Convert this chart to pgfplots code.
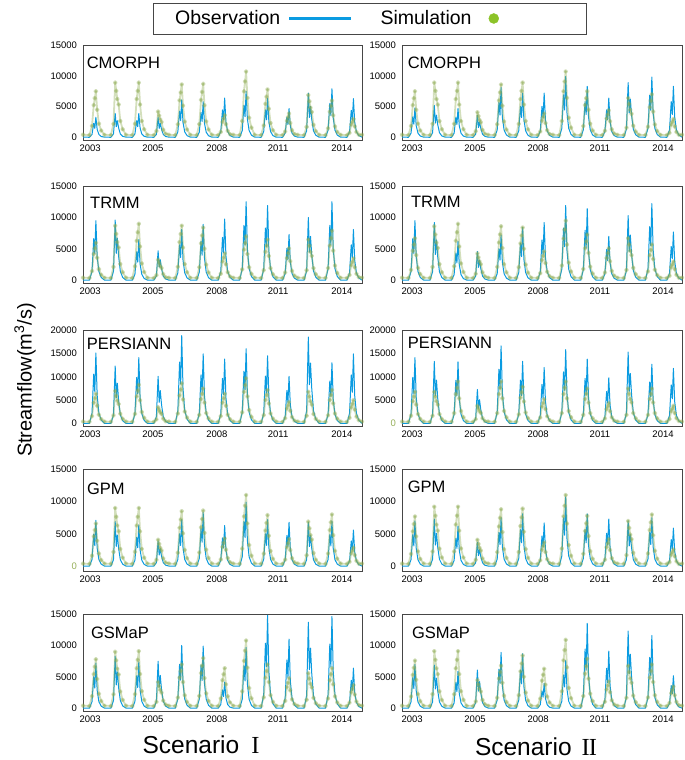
\documentclass[border=0pt]{standalone}
\usepackage{pgfplots}
\usepackage{pgfplotstable}
\pgfplotsset{compat=1.18}
\usepackage{fontspec}
\setmainfont{Liberation Sans}
\newfontfamily\romanfont{Liberation Serif}
\definecolor{obsblue}{RGB}{10,155,225}
\definecolor{simgreen}{RGB}{140,170,80}
\definecolor{simdot}{RGB}{140,195,40}
\definecolor{zerogreen}{RGB}{150,175,90}
\definecolor{framegray}{RGB}{70,70,70}

% ---------------- Scenario I ----------------
\pgfplotstableread[row sep=\\]{
t b g\\
0 60 450\\ 0.30 40 400\\ 0.42 500 1875\\ 0.50 2310 5250\\ 0.55 1490 6375\\ 0.60 3300 7500\\ 0.66 1320 4500\\ 0.74 500 2250\\ 0.85 165 1125\\
1 60 450\\ 1.30 40 400\\ 1.42 585 2225\\ 1.50 3900 8900\\ 1.55 1755 7565\\ 1.60 2730 6230\\ 1.66 1560 5340\\ 1.74 585 2670\\ 1.85 195 1335\\
2 60 450\\ 2.30 40 400\\ 2.42 585 2225\\ 2.50 2730 6230\\ 2.55 1755 7565\\ 2.60 3900 8900\\ 2.66 1560 5340\\ 2.74 585 2670\\ 2.85 195 1335\\
3 60 450\\ 3.30 40 400\\ 3.42 500 1050\\ 3.50 3300 4200\\ 3.55 1490 3570\\ 3.60 2310 2940\\ 3.66 1320 2520\\ 3.74 500 1260\\ 3.85 165 630\\
4 60 450\\ 4.30 40 400\\ 4.42 915 2150\\ 4.50 4270 6020\\ 4.55 2745 7310\\ 4.60 6100 8600\\ 4.66 2440 5160\\ 4.74 915 2580\\ 4.85 305 1290\\
5 60 450\\ 5.30 40 400\\ 5.42 870 2175\\ 5.50 4060 6090\\ 5.55 2610 7395\\ 5.60 5800 8700\\ 5.66 2320 5220\\ 5.74 870 2610\\ 5.85 290 1305\\
6 60 450\\ 6.30 40 400\\ 6.42 960 900\\ 6.50 4480 2520\\ 6.55 2880 3060\\ 6.60 6400 3600\\ 6.66 2560 2160\\ 6.74 960 1080\\ 6.85 320 540\\
7 60 450\\ 7.30 40 400\\ 7.42 1125 2675\\ 7.50 5250 7490\\ 7.55 3375 9095\\ 7.60 7500 10700\\ 7.66 3000 6420\\ 7.74 1125 3210\\ 7.85 375 1605\\
8 60 450\\ 8.30 40 400\\ 8.42 960 1950\\ 8.50 4480 5460\\ 8.55 2880 6630\\ 8.60 6400 7800\\ 8.66 2560 4680\\ 8.74 960 2340\\ 8.85 320 1170\\
9 60 450\\ 9.30 40 400\\ 9.42 705 975\\ 9.50 3290 2730\\ 9.55 2115 3315\\ 9.60 4700 3900\\ 9.66 1880 2340\\ 9.74 705 1170\\ 9.85 235 585\\
10 60 450\\ 10.30 40 400\\ 10.42 1080 1725\\ 10.50 7200 6900\\ 10.55 3240 5865\\ 10.60 5040 4830\\ 10.66 2880 4140\\ 10.74 1080 2070\\ 10.85 360 1035\\
11 60 450\\ 11.30 40 400\\ 11.42 1185 1500\\ 11.50 5530 4200\\ 11.55 3555 5100\\ 11.60 7900 6000\\ 11.66 3160 3600\\ 11.74 1185 1800\\ 11.85 395 900\\
12 60 450\\ 12.30 40 400\\ 12.42 945 750\\ 12.50 4410 2100\\ 12.55 2835 2550\\ 12.60 6300 3000\\ 12.66 2520 1800\\ 12.74 945 900\\ 12.85 315 450\\
13 60 450\\
}\tCI

\pgfplotstableread[row sep=\\]{
t b g\\
0 60 450\\ 0.30 40 400\\ 0.42 1425 1500\\ 0.50 6650 4200\\ 0.55 4275 5100\\ 0.60 9500 6000\\ 0.66 3800 3600\\ 0.74 1425 1800\\ 0.85 475 900\\
1 60 450\\ 1.30 40 400\\ 1.42 1440 2175\\ 1.50 9600 8700\\ 1.55 4320 7395\\ 1.60 6720 6090\\ 1.66 3840 5220\\ 1.74 1440 2610\\ 1.85 480 1305\\
2 60 450\\ 2.30 40 400\\ 2.42 975 2250\\ 2.50 4550 6300\\ 2.55 2925 7650\\ 2.60 6500 9000\\ 2.66 2600 5400\\ 2.74 975 2700\\ 2.85 325 1350\\
3 60 450\\ 3.30 40 400\\ 3.42 705 825\\ 3.50 4700 3300\\ 3.55 2115 2805\\ 3.60 3290 2310\\ 3.66 1880 1980\\ 3.74 705 990\\ 3.85 235 495\\
4 60 450\\ 4.30 40 400\\ 4.42 1215 2175\\ 4.50 5670 6090\\ 4.55 3645 7395\\ 4.60 8100 8700\\ 4.66 3240 5220\\ 4.74 1215 2610\\ 4.85 405 1305\\
5 60 450\\ 5.30 40 400\\ 5.42 1335 2100\\ 5.50 6230 5880\\ 5.55 4005 7140\\ 5.60 8900 8400\\ 5.66 3560 5040\\ 5.74 1335 2520\\ 5.85 445 1260\\
6 60 450\\ 6.30 40 400\\ 6.42 1460 1075\\ 6.50 6825 3010\\ 6.55 4390 3655\\ 6.60 9750 4300\\ 6.66 3900 2580\\ 6.74 1460 1290\\ 6.85 490 645\\
7 60 450\\ 7.30 40 400\\ 7.42 1875 1750\\ 7.50 8750 4900\\ 7.55 5625 5950\\ 7.60 12500 7000\\ 7.66 5000 4200\\ 7.74 1875 2100\\ 7.85 625 1050\\
8 60 450\\ 8.30 40 400\\ 8.42 1785 1625\\ 8.50 8330 4550\\ 8.55 5355 5525\\ 8.60 11900 6500\\ 8.66 4760 3900\\ 8.74 1785 1950\\ 8.85 595 975\\
9 60 450\\ 9.30 40 400\\ 9.42 1095 1275\\ 9.50 5110 3570\\ 9.55 3285 4335\\ 9.60 7300 5100\\ 9.66 2920 3060\\ 9.74 1095 1530\\ 9.85 365 765\\
10 60 450\\ 10.30 40 400\\ 10.42 1500 1625\\ 10.50 10000 6500\\ 10.55 4500 5525\\ 10.60 7000 4550\\ 10.66 4000 3900\\ 10.74 1500 1950\\ 10.85 500 975\\
11 60 450\\ 11.30 40 400\\ 11.42 1875 1975\\ 11.50 8750 5530\\ 11.55 5625 6715\\ 11.60 12500 7900\\ 11.66 5000 4740\\ 11.74 1875 2370\\ 11.85 625 1185\\
12 60 450\\ 12.30 40 400\\ 12.42 1215 875\\ 12.50 5670 2450\\ 12.55 3645 2975\\ 12.60 8100 3500\\ 12.66 3240 2100\\ 12.74 1215 1050\\ 12.85 405 525\\
13 60 450\\
}\tTI

\pgfplotstableread[row sep=\\]{
t b g\\
0 60 450\\ 0.30 40 400\\ 0.42 2265 1600\\ 0.50 10570 4480\\ 0.55 6795 5440\\ 0.60 15100 6400\\ 0.66 6040 3840\\ 0.74 2265 1920\\ 0.85 755 960\\
1 60 450\\ 1.30 40 400\\ 1.42 1845 1750\\ 1.50 12300 7000\\ 1.55 5535 5950\\ 1.60 8610 4900\\ 1.66 4920 4200\\ 1.74 1845 2100\\ 1.85 615 1050\\
2 60 450\\ 2.30 40 400\\ 2.42 2115 2075\\ 2.50 9870 5810\\ 2.55 6345 7055\\ 2.60 14100 8300\\ 2.66 5640 4980\\ 2.74 2115 2490\\ 2.85 705 1245\\
3 60 450\\ 3.30 40 400\\ 3.42 1515 875\\ 3.50 10100 3500\\ 3.55 4545 2975\\ 3.60 7070 2450\\ 3.66 4040 2100\\ 3.74 1515 1050\\ 3.85 505 525\\
4 60 450\\ 4.30 40 400\\ 4.42 2820 2150\\ 4.50 13160 6020\\ 4.55 8460 7310\\ 4.60 18800 8600\\ 4.66 7520 5160\\ 4.74 2820 2580\\ 4.85 940 1290\\
5 60 450\\ 5.30 40 400\\ 5.42 2235 1875\\ 5.50 10430 5250\\ 5.55 6705 6375\\ 5.60 14900 7500\\ 5.66 5960 4500\\ 5.74 2235 2250\\ 5.85 745 1125\\
6 60 450\\ 6.30 40 400\\ 6.42 2070 1600\\ 6.50 9660 4480\\ 6.55 6210 5440\\ 6.60 13800 6400\\ 6.66 5520 3840\\ 6.74 2070 1920\\ 6.85 690 960\\
7 60 450\\ 7.30 40 400\\ 7.42 2400 2425\\ 7.50 11200 6790\\ 7.55 7200 8245\\ 7.60 16000 9700\\ 7.66 6400 5820\\ 7.74 2400 2910\\ 7.85 800 1455\\
8 60 450\\ 8.30 40 400\\ 8.42 2175 1800\\ 8.50 10150 5040\\ 8.55 6525 6120\\ 8.60 14500 7200\\ 8.66 5800 4320\\ 8.74 2175 2160\\ 8.85 725 1080\\
9 60 450\\ 9.30 40 400\\ 9.42 1515 1150\\ 9.50 7070 3220\\ 9.55 4545 3910\\ 9.60 10100 4600\\ 9.66 4040 2760\\ 9.74 1515 1380\\ 9.85 505 690\\
10 60 450\\ 10.30 40 400\\ 10.42 2775 1700\\ 10.50 18500 6800\\ 10.55 8325 5780\\ 10.60 12950 4760\\ 10.66 7400 4080\\ 10.74 2775 2040\\ 10.85 925 1020\\
11 60 450\\ 11.30 40 400\\ 11.42 1950 1800\\ 11.50 9100 5040\\ 11.55 5850 6120\\ 11.60 13000 7200\\ 11.66 5200 4320\\ 11.74 1950 2160\\ 11.85 650 1080\\
12 60 450\\ 12.30 40 400\\ 12.42 2235 1250\\ 12.50 10430 3500\\ 12.55 6705 4250\\ 12.60 14900 5000\\ 12.66 5960 3000\\ 12.74 2235 1500\\ 12.85 745 750\\
13 60 450\\
}\tPI

\pgfplotstableread[row sep=\\]{
t b g\\
0 60 450\\ 0.30 40 400\\ 0.42 1065 1650\\ 0.50 4970 4620\\ 0.55 3195 5610\\ 0.60 7100 6600\\ 0.66 2840 3960\\ 0.74 1065 1980\\ 0.85 355 990\\
1 60 450\\ 1.30 40 400\\ 1.42 1035 2250\\ 1.50 6900 9000\\ 1.55 3105 7650\\ 1.60 4830 6300\\ 1.66 2760 5400\\ 1.74 1035 2700\\ 1.85 345 1350\\
2 60 450\\ 2.30 40 400\\ 2.42 960 2250\\ 2.50 4480 6300\\ 2.55 2880 7650\\ 2.60 6400 9000\\ 2.66 2560 5400\\ 2.74 960 2700\\ 2.85 320 1350\\
3 60 450\\ 3.30 40 400\\ 3.42 585 1025\\ 3.50 3900 4100\\ 3.55 1755 3485\\ 3.60 2730 2870\\ 3.66 1560 2460\\ 3.74 585 1230\\ 3.85 195 615\\
4 60 450\\ 4.30 40 400\\ 4.42 1080 2125\\ 4.50 5040 5950\\ 4.55 3240 7225\\ 4.60 7200 8500\\ 4.66 2880 5100\\ 4.74 1080 2550\\ 4.85 360 1275\\
5 60 450\\ 5.30 40 400\\ 5.42 1245 2150\\ 5.50 5810 6020\\ 5.55 3735 7310\\ 5.60 8300 8600\\ 5.66 3320 5160\\ 5.74 1245 2580\\ 5.85 415 1290\\
6 60 450\\ 6.30 40 400\\ 6.42 945 1075\\ 6.50 4410 3010\\ 6.55 2835 3655\\ 6.60 6300 4300\\ 6.66 2520 2580\\ 6.74 945 1290\\ 6.85 315 645\\
7 60 450\\ 7.30 40 400\\ 7.42 1485 2750\\ 7.50 6930 7700\\ 7.55 4455 9350\\ 7.60 9900 11000\\ 7.66 3960 6600\\ 7.74 1485 3300\\ 7.85 495 1650\\
8 60 450\\ 8.30 40 400\\ 8.42 1080 1975\\ 8.50 5040 5530\\ 8.55 3240 6715\\ 8.60 7200 7900\\ 8.66 2880 4740\\ 8.74 1080 2370\\ 8.85 360 1185\\
9 60 450\\ 9.30 40 400\\ 9.42 1020 1050\\ 9.50 4760 2940\\ 9.55 3060 3570\\ 9.60 6800 4200\\ 9.66 2720 2520\\ 9.74 1020 1260\\ 9.85 340 630\\
10 60 450\\ 10.30 40 400\\ 10.42 1020 1725\\ 10.50 6800 6900\\ 10.55 3060 5865\\ 10.60 4760 4830\\ 10.66 2720 4140\\ 10.74 1020 2070\\ 10.85 340 1035\\
11 60 450\\ 11.30 40 400\\ 11.42 1050 2000\\ 11.50 4900 5600\\ 11.55 3150 6800\\ 11.60 7000 8000\\ 11.66 2800 4800\\ 11.74 1050 2400\\ 11.85 350 1200\\
12 60 450\\ 12.30 40 400\\ 12.42 840 725\\ 12.50 3920 2030\\ 12.55 2520 2465\\ 12.60 5600 2900\\ 12.66 2240 1740\\ 12.74 840 870\\ 12.85 280 435\\
13 60 450\\
}\tGI

\pgfplotstableread[row sep=\\]{
t b g\\
0 60 450\\ 0.30 40 400\\ 0.42 1080 1950\\ 0.50 5040 5460\\ 0.55 3240 6630\\ 0.60 7200 7800\\ 0.66 2880 4680\\ 0.74 1080 2340\\ 0.85 360 1170\\
1 60 450\\ 1.30 40 400\\ 1.42 1245 2250\\ 1.50 8300 9000\\ 1.55 3735 7650\\ 1.60 5810 6300\\ 1.66 3320 5400\\ 1.74 1245 2700\\ 1.85 415 1350\\
2 60 450\\ 2.30 40 400\\ 2.42 1110 2275\\ 2.50 5180 6370\\ 2.55 3330 7735\\ 2.60 7400 9100\\ 2.66 2960 5460\\ 2.74 1110 2730\\ 2.85 370 1365\\
3 60 450\\ 3.30 40 400\\ 3.42 1125 1050\\ 3.50 7500 4200\\ 3.55 3375 3570\\ 3.60 5250 2940\\ 3.66 3000 2520\\ 3.74 1125 1260\\ 3.85 375 630\\
4 60 450\\ 4.30 40 400\\ 4.42 1500 1750\\ 4.50 7000 4900\\ 4.55 4500 5950\\ 4.60 10000 7000\\ 4.66 4000 4200\\ 4.74 1500 2100\\ 4.85 500 1050\\
5 60 450\\ 5.30 40 400\\ 5.42 1485 2000\\ 5.50 6930 5600\\ 5.55 4455 6800\\ 5.60 9900 8000\\ 5.66 3960 4800\\ 5.74 1485 2400\\ 5.85 495 1200\\
6 60 450\\ 6.30 40 400\\ 6.42 630 1600\\ 6.50 2940 4480\\ 6.55 1890 5440\\ 6.60 4200 6400\\ 6.66 1680 3840\\ 6.74 630 1920\\ 6.85 210 960\\
7 60 450\\ 7.30 40 400\\ 7.42 1455 2700\\ 7.50 6790 7560\\ 7.55 4365 9180\\ 7.60 9700 10800\\ 7.66 3880 6480\\ 7.74 1455 3240\\ 7.85 485 1620\\
8 60 450\\ 8.30 40 400\\ 8.42 2220 1750\\ 8.50 10360 4900\\ 8.55 6660 5950\\ 8.60 14800 7000\\ 8.66 5920 4200\\ 8.74 2220 2100\\ 8.85 740 1050\\
9 60 450\\ 9.30 40 400\\ 9.42 1650 1200\\ 9.50 7700 3360\\ 9.55 4950 4080\\ 9.60 11000 4800\\ 9.66 4400 2880\\ 9.74 1650 1440\\ 9.85 550 720\\
10 60 450\\ 10.30 40 400\\ 10.42 2055 1400\\ 10.50 13700 5600\\ 10.55 6165 4760\\ 10.60 9590 3920\\ 10.66 5480 3360\\ 10.74 2055 1680\\ 10.85 685 840\\
11 60 450\\ 11.30 40 400\\ 11.42 2190 1600\\ 11.50 10220 4480\\ 11.55 6570 5440\\ 11.60 14600 6400\\ 11.66 5840 3840\\ 11.74 2190 1920\\ 11.85 730 960\\
12 60 450\\ 12.30 40 400\\ 12.42 960 925\\ 12.50 4480 2590\\ 12.55 2880 3145\\ 12.60 6400 3700\\ 12.66 2560 2220\\ 12.74 960 1110\\ 12.85 320 555\\
13 60 450\\
}\tSI

% ---------------- Scenario II ----------------
\pgfplotstableread[row sep=\\]{
t b g\\
0 60 450\\ 0.30 40 400\\ 0.42 720 1875\\ 0.50 3360 5250\\ 0.55 2160 6375\\ 0.60 4800 7500\\ 0.66 1920 4500\\ 0.74 720 2250\\ 0.85 240 1125\\
1 60 450\\ 1.30 40 400\\ 1.42 780 2225\\ 1.50 5200 8900\\ 1.55 2340 7565\\ 1.60 3640 6230\\ 1.66 2080 5340\\ 1.74 780 2670\\ 1.85 260 1335\\
2 60 450\\ 2.30 40 400\\ 2.42 705 2225\\ 2.50 3290 6230\\ 2.55 2115 7565\\ 2.60 4700 8900\\ 2.66 1880 5340\\ 2.74 705 2670\\ 2.85 235 1335\\
3 60 450\\ 3.30 40 400\\ 3.42 540 1025\\ 3.50 3600 4100\\ 3.55 1620 3485\\ 3.60 2520 2870\\ 3.66 1440 2460\\ 3.74 540 1230\\ 3.85 180 615\\
4 60 450\\ 4.30 40 400\\ 4.42 1215 2150\\ 4.50 5670 6020\\ 4.55 3645 7310\\ 4.60 8100 8600\\ 4.66 3240 5160\\ 4.74 1215 2580\\ 4.85 405 1290\\
5 60 450\\ 5.30 40 400\\ 5.42 1080 2225\\ 5.50 5040 6230\\ 5.55 3240 7565\\ 5.60 7200 8900\\ 5.66 2880 5340\\ 5.74 1080 2670\\ 5.85 360 1335\\
6 60 450\\ 6.30 40 400\\ 6.42 1080 975\\ 6.50 5040 2730\\ 6.55 3240 3315\\ 6.60 7200 3900\\ 6.66 2880 2340\\ 6.74 1080 1170\\ 6.85 360 585\\
7 60 450\\ 7.30 40 400\\ 7.42 1485 2675\\ 7.50 6930 7490\\ 7.55 4455 9095\\ 7.60 9900 10700\\ 7.66 3960 6420\\ 7.74 1485 3210\\ 7.85 495 1605\\
8 60 450\\ 8.30 40 400\\ 8.42 1245 1875\\ 8.50 5810 5250\\ 8.55 3735 6375\\ 8.60 8300 7500\\ 8.66 3320 4500\\ 8.74 1245 2250\\ 8.85 415 1125\\
9 60 450\\ 9.30 40 400\\ 9.42 960 1100\\ 9.50 4480 3080\\ 9.55 2880 3740\\ 9.60 6400 4400\\ 9.66 2560 2640\\ 9.74 960 1320\\ 9.85 320 660\\
10 60 450\\ 10.30 40 400\\ 10.42 1335 1600\\ 10.50 8900 6400\\ 10.55 4005 5440\\ 10.60 6230 4480\\ 10.66 3560 3840\\ 10.74 1335 1920\\ 10.85 445 960\\
11 60 450\\ 11.30 40 400\\ 11.42 1470 1750\\ 11.50 6860 4900\\ 11.55 4410 5950\\ 11.60 9800 7000\\ 11.66 3920 4200\\ 11.74 1470 2100\\ 11.85 490 1050\\
12 60 450\\ 12.30 40 400\\ 12.42 1245 750\\ 12.50 5810 2100\\ 12.55 3735 2550\\ 12.60 8300 3000\\ 12.66 3320 1800\\ 12.74 1245 900\\ 12.85 415 450\\
13 60 450\\
}\tCII

\pgfplotstableread[row sep=\\]{
t b g\\
0 60 450\\ 0.30 40 400\\ 0.42 1425 1675\\ 0.50 6650 4690\\ 0.55 4275 5695\\ 0.60 9500 6700\\ 0.66 3800 4020\\ 0.74 1425 2010\\ 0.85 475 1005\\
1 60 450\\ 1.30 40 400\\ 1.42 1380 2150\\ 1.50 9200 8600\\ 1.55 4140 7310\\ 1.60 6440 6020\\ 1.66 3680 5160\\ 1.74 1380 2580\\ 1.85 460 1290\\
2 60 450\\ 2.30 40 400\\ 2.42 930 2250\\ 2.50 4340 6300\\ 2.55 2790 7650\\ 2.60 6200 9000\\ 2.66 2480 5400\\ 2.74 930 2700\\ 2.85 310 1350\\
3 60 450\\ 3.30 40 400\\ 3.42 690 1075\\ 3.50 4600 4300\\ 3.55 2070 3655\\ 3.60 3220 3010\\ 3.66 1840 2580\\ 3.74 690 1290\\ 3.85 230 645\\
4 60 450\\ 4.30 40 400\\ 4.42 1080 2150\\ 4.50 5040 6020\\ 4.55 3240 7310\\ 4.60 7200 8600\\ 4.66 2880 5160\\ 4.74 1080 2580\\ 4.85 360 1290\\
5 60 450\\ 5.30 40 400\\ 5.42 1260 2100\\ 5.50 5880 5880\\ 5.55 3780 7140\\ 5.60 8400 8400\\ 5.66 3360 5040\\ 5.74 1260 2520\\ 5.85 420 1260\\
6 60 450\\ 6.30 40 400\\ 6.42 1380 1150\\ 6.50 6440 3220\\ 6.55 4140 3910\\ 6.60 9200 4600\\ 6.66 3680 2760\\ 6.74 1380 1380\\ 6.85 460 690\\
7 60 450\\ 7.30 40 400\\ 7.42 1785 2375\\ 7.50 8330 6650\\ 7.55 5355 8075\\ 7.60 11900 9500\\ 7.66 4760 5700\\ 7.74 1785 2850\\ 7.85 595 1425\\
8 60 450\\ 8.30 40 400\\ 8.42 1710 1825\\ 8.50 7980 5110\\ 8.55 5130 6205\\ 8.60 11400 7300\\ 8.66 4560 4380\\ 8.74 1710 2190\\ 8.85 570 1095\\
9 60 450\\ 9.30 40 400\\ 9.42 1050 1275\\ 9.50 4900 3570\\ 9.55 3150 4335\\ 9.60 7000 5100\\ 9.66 2800 3060\\ 9.74 1050 1530\\ 9.85 350 765\\
10 60 450\\ 10.30 40 400\\ 10.42 1545 1675\\ 10.50 10300 6700\\ 10.55 4635 5695\\ 10.60 7210 4690\\ 10.66 4120 4020\\ 10.74 1545 2010\\ 10.85 515 1005\\
11 60 450\\ 11.30 40 400\\ 11.42 1830 1425\\ 11.50 8540 3990\\ 11.55 5490 4845\\ 11.60 12200 5700\\ 11.66 4880 3420\\ 11.74 1830 1710\\ 11.85 610 855\\
12 60 450\\ 12.30 40 400\\ 12.42 1155 750\\ 12.50 5390 2100\\ 12.55 3465 2550\\ 12.60 7700 3000\\ 12.66 3080 1800\\ 12.74 1155 900\\ 12.85 385 450\\
13 60 450\\
}\tTII

\pgfplotstableread[row sep=\\]{
t b g\\
0 60 450\\ 0.30 40 400\\ 0.42 2115 1700\\ 0.50 9870 4760\\ 0.55 6345 5780\\ 0.60 14100 6800\\ 0.66 5640 4080\\ 0.74 2115 2040\\ 0.85 705 1020\\
1 60 450\\ 1.30 40 400\\ 1.42 1995 1700\\ 1.50 13300 6800\\ 1.55 5985 5780\\ 1.60 9310 4760\\ 1.66 5320 4080\\ 1.74 1995 2040\\ 1.85 665 1020\\
2 60 450\\ 2.30 40 400\\ 2.42 1980 2250\\ 2.50 9240 6300\\ 2.55 5940 7650\\ 2.60 13200 9000\\ 2.66 5280 5400\\ 2.74 1980 2700\\ 2.85 660 1350\\
3 60 450\\ 3.30 40 400\\ 3.42 1095 950\\ 3.50 7300 3800\\ 3.55 3285 3230\\ 3.60 5110 2660\\ 3.66 2920 2280\\ 3.74 1095 1140\\ 3.85 365 570\\
4 60 450\\ 4.30 40 400\\ 4.42 2490 2250\\ 4.50 11620 6300\\ 4.55 7470 7650\\ 4.60 16600 9000\\ 4.66 6640 5400\\ 4.74 2490 2700\\ 4.85 830 1350\\
5 60 450\\ 5.30 40 400\\ 5.42 1995 1975\\ 5.50 9310 5530\\ 5.55 5985 6715\\ 5.60 13300 7900\\ 5.66 5320 4740\\ 5.74 1995 2370\\ 5.85 665 1185\\
6 60 450\\ 6.30 40 400\\ 6.42 1800 1300\\ 6.50 8400 3640\\ 6.55 5400 4420\\ 6.60 12000 5200\\ 6.66 4800 3120\\ 6.74 1800 1560\\ 6.85 600 780\\
7 60 450\\ 7.30 40 400\\ 7.42 2370 2250\\ 7.50 11060 6300\\ 7.55 7110 7650\\ 7.60 15800 9000\\ 7.66 6320 5400\\ 7.74 2370 2700\\ 7.85 790 1350\\
8 60 450\\ 8.30 40 400\\ 8.42 2070 1875\\ 8.50 9660 5250\\ 8.55 6210 6375\\ 8.60 13800 7500\\ 8.66 5520 4500\\ 8.74 2070 2250\\ 8.85 690 1125\\
9 60 450\\ 9.30 40 400\\ 9.42 1470 1100\\ 9.50 6860 3080\\ 9.55 4410 3740\\ 9.60 9800 4400\\ 9.66 3920 2640\\ 9.74 1470 1320\\ 9.85 490 660\\
10 60 450\\ 10.30 40 400\\ 10.42 2295 1875\\ 10.50 15300 7500\\ 10.55 6885 6375\\ 10.60 10710 5250\\ 10.66 6120 4500\\ 10.74 2295 2250\\ 10.85 765 1125\\
11 60 450\\ 11.30 40 400\\ 11.42 1905 1875\\ 11.50 8890 5250\\ 11.55 5715 6375\\ 11.60 12700 7500\\ 11.66 5080 4500\\ 11.74 1905 2250\\ 11.85 635 1125\\
12 60 450\\ 12.30 40 400\\ 12.42 1770 950\\ 12.50 8260 2660\\ 12.55 5310 3230\\ 12.60 11800 3800\\ 12.66 4720 2280\\ 12.74 1770 1140\\ 12.85 590 570\\
13 60 450\\
}\tPII

\pgfplotstableread[row sep=\\]{
t b g\\
0 60 450\\ 0.30 40 400\\ 0.42 1050 1925\\ 0.50 4900 5390\\ 0.55 3150 6545\\ 0.60 7000 7700\\ 0.66 2800 4620\\ 0.74 1050 2310\\ 0.85 350 1155\\
1 60 450\\ 1.30 40 400\\ 1.42 1095 2300\\ 1.50 7300 9200\\ 1.55 3285 7820\\ 1.60 5110 6440\\ 1.66 2920 5520\\ 1.74 1095 2760\\ 1.85 365 1380\\
2 60 450\\ 2.30 40 400\\ 2.42 930 2300\\ 2.50 4340 6440\\ 2.55 2790 7820\\ 2.60 6200 9200\\ 2.66 2480 5520\\ 2.74 930 2760\\ 2.85 310 1380\\
3 60 450\\ 3.30 40 400\\ 3.42 555 1025\\ 3.50 3700 4100\\ 3.55 1665 3485\\ 3.60 2590 2870\\ 3.66 1480 2460\\ 3.74 555 1230\\ 3.85 185 615\\
4 60 450\\ 4.30 40 400\\ 4.42 1125 2200\\ 4.50 5250 6160\\ 4.55 3375 7480\\ 4.60 7500 8800\\ 4.66 3000 5280\\ 4.74 1125 2640\\ 4.85 375 1320\\
5 60 450\\ 5.30 40 400\\ 5.42 1215 2225\\ 5.50 5670 6230\\ 5.55 3645 7565\\ 5.60 8100 8900\\ 5.66 3240 5340\\ 5.74 1215 2670\\ 5.85 405 1335\\
6 60 450\\ 6.30 40 400\\ 6.42 1005 925\\ 6.50 4690 2590\\ 6.55 3015 3145\\ 6.60 6700 3700\\ 6.66 2680 2220\\ 6.74 1005 1110\\ 6.85 335 555\\
7 60 450\\ 7.30 40 400\\ 7.42 1605 2750\\ 7.50 7490 7700\\ 7.55 4815 9350\\ 7.60 10700 11000\\ 7.66 4280 6600\\ 7.74 1605 3300\\ 7.85 535 1650\\
8 60 450\\ 8.30 40 400\\ 8.42 1215 1950\\ 8.50 5670 5460\\ 8.55 3645 6630\\ 8.60 8100 7800\\ 8.66 3240 4680\\ 8.74 1215 2340\\ 8.85 405 1170\\
9 60 450\\ 9.30 40 400\\ 9.42 1095 1050\\ 9.50 5110 2940\\ 9.55 3285 3570\\ 9.60 7300 4200\\ 9.66 2920 2520\\ 9.74 1095 1260\\ 9.85 365 630\\
10 60 450\\ 10.30 40 400\\ 10.42 1050 1750\\ 10.50 7000 7000\\ 10.55 3150 5950\\ 10.60 4900 4900\\ 10.66 2800 4200\\ 10.74 1050 2100\\ 10.85 350 1050\\
11 60 450\\ 11.30 40 400\\ 11.42 1125 2000\\ 11.50 5250 5600\\ 11.55 3375 6800\\ 11.60 7500 8000\\ 11.66 3000 4800\\ 11.74 1125 2400\\ 11.85 375 1200\\
12 60 450\\ 12.30 40 400\\ 12.42 885 650\\ 12.50 4130 1820\\ 12.55 2655 2210\\ 12.60 5900 2600\\ 12.66 2360 1560\\ 12.74 885 780\\ 12.85 295 390\\
13 60 450\\
}\tGII

\pgfplotstableread[row sep=\\]{
t b g\\
0 60 450\\ 0.30 40 400\\ 0.42 1050 1900\\ 0.50 4900 5320\\ 0.55 3150 6460\\ 0.60 7000 7600\\ 0.66 2800 4560\\ 0.74 1050 2280\\ 0.85 350 1140\\
1 60 450\\ 1.30 40 400\\ 1.42 1035 2275\\ 1.50 6900 9100\\ 1.55 3105 7735\\ 1.60 4830 6370\\ 1.66 2760 5460\\ 1.74 1035 2730\\ 1.85 345 1365\\
2 60 450\\ 2.30 40 400\\ 2.42 885 2275\\ 2.50 4130 6370\\ 2.55 2655 7735\\ 2.60 5900 9100\\ 2.66 2360 5460\\ 2.74 885 2730\\ 2.85 295 1365\\
3 60 450\\ 3.30 40 400\\ 3.42 915 1125\\ 3.50 6100 4500\\ 3.55 2745 3825\\ 3.60 4270 3150\\ 3.66 2440 2700\\ 3.74 915 1350\\ 3.85 305 675\\
4 60 450\\ 4.30 40 400\\ 4.42 1335 1700\\ 4.50 6230 4760\\ 4.55 4005 5780\\ 4.60 8900 6800\\ 4.66 3560 4080\\ 4.74 1335 2040\\ 4.85 445 1020\\
5 60 450\\ 5.30 40 400\\ 5.42 1305 2100\\ 5.50 6090 5880\\ 5.55 3915 7140\\ 5.60 8700 8400\\ 5.66 3480 5040\\ 5.74 1305 2520\\ 5.85 435 1260\\
6 60 450\\ 6.30 40 400\\ 6.42 600 1575\\ 6.50 2800 4410\\ 6.55 1800 5355\\ 6.60 4000 6300\\ 6.66 1600 3780\\ 6.74 600 1890\\ 6.85 200 945\\
7 60 450\\ 7.30 40 400\\ 7.42 1140 2725\\ 7.50 5320 7630\\ 7.55 3420 9265\\ 7.60 7600 10900\\ 7.66 3040 6540\\ 7.74 1140 3270\\ 7.85 380 1635\\
8 60 450\\ 8.30 40 400\\ 8.42 2025 1975\\ 8.50 9450 5530\\ 8.55 6075 6715\\ 8.60 13500 7900\\ 8.66 5400 4740\\ 8.74 2025 2370\\ 8.85 675 1185\\
9 60 450\\ 9.30 40 400\\ 9.42 1365 1075\\ 9.50 6370 3010\\ 9.55 4095 3655\\ 9.60 9100 4300\\ 9.66 3640 2580\\ 9.74 1365 1290\\ 9.85 455 645\\
10 60 450\\ 10.30 40 400\\ 10.42 1845 1700\\ 10.50 12300 6800\\ 10.55 5535 5780\\ 10.60 8610 4760\\ 10.66 4920 4080\\ 10.74 1845 2040\\ 10.85 615 1020\\
11 60 450\\ 11.30 40 400\\ 11.42 1740 1750\\ 11.50 8120 4900\\ 11.55 5220 5950\\ 11.60 11600 7000\\ 11.66 4640 4200\\ 11.74 1740 2100\\ 11.85 580 1050\\
12 60 450\\ 12.30 40 400\\ 12.42 780 875\\ 12.50 3640 2450\\ 12.55 2340 2975\\ 12.60 5200 3500\\ 12.66 2080 2100\\ 12.74 780 1050\\ 12.85 260 525\\
13 60 450\\
}\tSII

\pgfplotsset{
  panel/.style={scale only axis, xmin=0, xmax=13, major tick length=0pt,
    scaled x ticks=false, scaled y ticks=false,
    axis line style={draw=framegray, line width=0.9pt},
    tick label style={font=\fontsize{9.5}{11}\selectfont},
    yticklabel style={xshift=-2.5pt}, xticklabel style={yshift=-1.2pt},
    /pgf/number format/assume math mode=true, clip=true},
  panelL/.style={panel, width=279pt, xtick={0.33,3.26,6.24,9.09,12.06}, xticklabels={2003,2005,2008,2011,2014}},
  panelR/.style={panel, width=280pt, xtick={0.47,3.39,6.32,9.19,12.12}, xticklabels={2003,2005,2008,2011,2014}},
  y15/.style={ymax=15000, ytick={0,5000,10000,15000}, yticklabels={0,5000,10000,15000}},
  y15g/.style={ymax=15000, ytick={0,5000,10000,15000}, yticklabels={\textcolor{zerogreen}{0},5000,10000,15000}},
  y20/.style={ymax=20000, ytick={0,5000,10000,15000,20000}, yticklabels={0,5000,10000,15000,20000}},
  y20g/.style={ymax=20000, ytick={0,5000,10000,15000,20000}, yticklabels={\textcolor{zerogreen}{0},5000,10000,15000,20000}},
  obs/.style={color=obsblue, line width=1.0pt, line join=round, forget plot},
  sim/.style={color=simgreen, opacity=0.38, line width=1.8pt, line join=round, mark=*, mark size=1.5pt, mark options={draw=none, fill=simgreen}, forget plot},
}
\tikzset{ttl/.style={anchor=west, inner sep=0pt, font=\fontsize{16.5}{18}\selectfont}}

\begin{document}
\begin{tikzpicture}
\useasboundingbox (0pt,0pt) rectangle (685pt,760pt);

% ---------- Row 1: CMORPH ----------
\begin{axis}[panelL, y15, at={(83pt,620pt)}, anchor=south west, height=95pt, ymin=-400,
  legend columns=2, legend plot pos=right,
  legend style={draw=none, fill=none, at={(axis description cs:0.3297,1.279)}, anchor=west, inner sep=0pt,
    font=\fontsize{19.5}{22}\selectfont, nodes={inner xsep=0pt, inner ysep=1pt},
    /tikz/every odd column/.append style={column sep=8pt},
    /tikz/every even column/.append style={column sep=28pt}}]
\addplot[obs] table[x=t,y=b]{\tCI};
\addplot[sim] table[x=t,y=g]{\tCI};
\addlegendimage{obsblue, line width=2.2pt, legend image code/.code={\draw[obsblue, line width=2.2pt] (0pt,0pt) -- (62pt,0pt);}}
\addlegendentry{Observation}
\addlegendimage{legend image code/.code={\path (0pt,0pt); \fill[simdot] (14pt,0pt) circle (5pt);}}
\addlegendentry{Simulation}
\node[ttl] at (axis description cs:0.013,0.81) {CMORPH};
\end{axis}
\begin{axis}[panelR, y15, at={(402pt,620pt)}, anchor=south west, height=95pt, ymin=-400]
\addplot[obs] table[x=t,y=b]{\tCII};
\addplot[sim] table[x=t,y=g]{\tCII};
\node[ttl] at (axis description cs:0.02,0.817) {CMORPH};
\end{axis}

% ---------- Row 2: TRMM ----------
\begin{axis}[panelL, y15, at={(83pt,477pt)}, anchor=south west, height=97pt, ymin=-400]
\addplot[obs] table[x=t,y=b]{\tTI};
\addplot[sim] table[x=t,y=g]{\tTI};
\node[ttl] at (axis description cs:0.025,0.83) {TRMM};
\end{axis}
\begin{axis}[panelR, y15, at={(402pt,477pt)}, anchor=south west, height=97pt, ymin=-400]
\addplot[obs] table[x=t,y=b]{\tTII};
\addplot[sim] table[x=t,y=g]{\tTII};
\node[ttl] at (axis description cs:0.032,0.832) {TRMM};
\end{axis}

% ---------- Row 3: PERSIANN ----------
\begin{axis}[panelL, y20, at={(83pt,334pt)}, anchor=south west, height=96pt, ymin=-500]
\addplot[obs] table[x=t,y=b]{\tPI};
\addplot[sim] table[x=t,y=g]{\tPI};
\node[ttl] at (axis description cs:0.013,0.854) {PERSIANN};
\end{axis}
\begin{axis}[panelR, y20g, at={(402pt,334pt)}, anchor=south west, height=96pt, ymin=-500]
\addplot[obs] table[x=t,y=b]{\tPII};
\addplot[sim] table[x=t,y=g]{\tPII};
\node[ttl] at (axis description cs:0.02,0.865) {PERSIANN};
\end{axis}

% ---------- Row 4: GPM ----------
\begin{axis}[panelL, y15g, at={(83pt,189pt)}, anchor=south west, height=102pt, ymin=-700]
\addplot[obs] table[x=t,y=b]{\tGI};
\addplot[sim] table[x=t,y=g]{\tGI};
\node[ttl] at (axis description cs:0.014,0.81) {GPM};
\end{axis}
\begin{axis}[panelR, y15, at={(402pt,189pt)}, anchor=south west, height=102pt, ymin=-700]
\addplot[obs] table[x=t,y=b]{\tGII};
\addplot[sim] table[x=t,y=g]{\tGII};
\node[ttl] at (axis description cs:0.02,0.826) {GPM};
\end{axis}

% ---------- Row 5: GSMaP ----------
\begin{axis}[panelL, y15, at={(83pt,49pt)}, anchor=south west, height=97pt, ymin=-400]
\addplot[obs] table[x=t,y=b]{\tSI};
\addplot[sim] table[x=t,y=g]{\tSI};
\node[ttl] at (axis description cs:0.028,0.807) {GSMaP};
\end{axis}
\begin{axis}[panelR, y15, at={(402pt,49pt)}, anchor=south west, height=97pt, ymin=-400]
\addplot[obs] table[x=t,y=b]{\tSII};
\addplot[sim] table[x=t,y=g]{\tSII};
\node[ttl] at (axis description cs:0.035,0.811) {GSMaP};
\end{axis}

% legend frame, axis title and scenario labels
\draw[framegray, line width=0.9pt] (153pt,726pt) rectangle (586pt,757pt);
\node[rotate=90, font=\fontsize{20}{24}\selectfont] at (25pt,380pt) {Streamflow(m\textsuperscript{3}/s)};
\node[font=\fontsize{24.5}{28}\selectfont] at (201pt,15pt) {Scenario\hspace{12pt}{\romanfont I}};
\node[font=\fontsize{24.5}{28}\selectfont] at (536pt,13pt) {Scenario\hspace{10pt}{\romanfont I\kern-1pt I}};
\end{tikzpicture}
\end{document}
